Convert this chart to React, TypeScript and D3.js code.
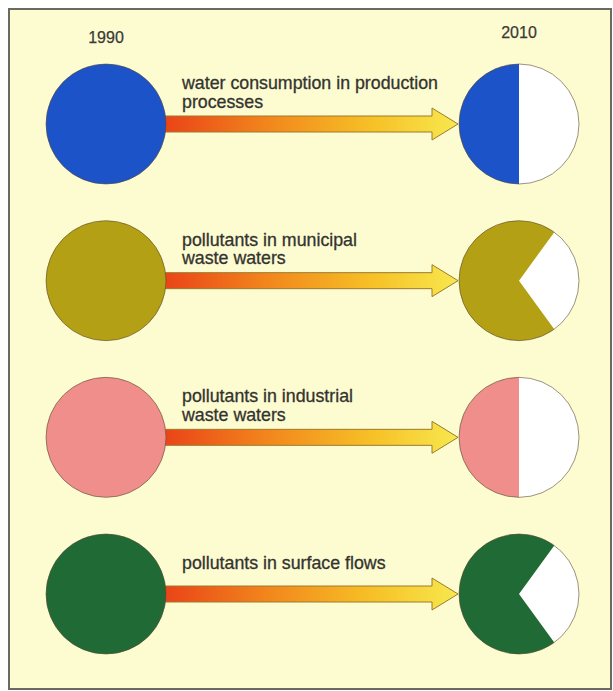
import React from "react";
import * as d3 from "d3";

const years = ["1990", "2010"];
const labelLines: string[][] = [
  ["water consumption in production", "processes"],
  ["pollutants in municipal", "waste waters"],
  ["pollutants in industrial", "waste waters"],
  ["pollutants in surface flows"],
];
const values1990 = [100, 100, 100, 100];
const values2010 = [50, 70, 50, 70];
const colors = ["#1d53c8", "#b3a015", "#ef8e8a", "#206a35"];

const W = 613;
const H = 691;

export default function App() {
  const rowY = d3.scaleLinear().domain([0, 3]).range([124, 594]);
  const xLeft = 106;
  const xRight = 519;
  const rScale = d3.scaleSqrt().domain([0, 100]).range([0, 60]);
  const fracScale = d3.scaleLinear().domain([0, 100]).range([0, 2 * Math.PI]);

  const shaftStart = 165;
  const headBase = 432;
  const tip = 458;
  const shaftH = 8;
  const headH = 16;

  const arrowPath = (cy: number) => {
    const p = d3.path();
    p.moveTo(shaftStart, cy - shaftH);
    p.lineTo(headBase, cy - shaftH);
    p.lineTo(headBase, cy - headH);
    p.lineTo(tip, cy);
    p.lineTo(headBase, cy + headH);
    p.lineTo(headBase, cy + shaftH);
    p.lineTo(shaftStart, cy + shaftH);
    p.closePath();
    return p.toString();
  };

  return (
    <svg
      width={W}
      height={H}
      style={{ position: "absolute", left: 0, top: 0, background: "#ffffff" }}
      fontFamily="'Liberation Sans', Arial, Helvetica, sans-serif"
    >
      <defs>
        <linearGradient id="arrowGrad" x1={shaftStart} x2={tip} y1={0} y2={0} gradientUnits="userSpaceOnUse">
          <stop offset="0" stopColor="#ea4418" />
          <stop offset="0.35" stopColor="#f2861c" />
          <stop offset="0.7" stopColor="#f6c026" />
          <stop offset="1" stopColor="#f7e84e" />
        </linearGradient>
      </defs>
      <rect x={9} y={9} width={602} height={680} fill="#fdfcd1" stroke="#6a6a62" strokeWidth={2} />
      <text x={xLeft} y={43} textAnchor="middle" fontSize={16} fill="#3a3a36" stroke="#3a3a36" strokeWidth={0.25}>{years[0]}</text>
      <text x={xRight} y={38} textAnchor="middle" fontSize={16} fill="#3a3a36" stroke="#3a3a36" strokeWidth={0.25}>{years[1]}</text>
      {labelLines.map((lines, i) => {
        const cy = rowY(i);
        const r1 = rScale(values1990[i]);
        const r2 = rScale(values1990[i]);
        const kept = values2010[i];
        const removed = values1990[i] - kept;
        const half = fracScale(removed) / 2;
        const whiteArc = d3.arc()({
          innerRadius: 0,
          outerRadius: r2,
          startAngle: Math.PI / 2 - half,
          endAngle: Math.PI / 2 + half,
        }) as string;
        const fillArc = d3.arc()({
          innerRadius: 0,
          outerRadius: r2,
          startAngle: Math.PI / 2 + half,
          endAngle: Math.PI / 2 + 2 * Math.PI - half,
        }) as string;
        const baseY = lines.length === 2 ? cy - 35 : cy - 25;
        return (
          <g key={i}>
            <path d={arrowPath(cy)} fill="url(#arrowGrad)" stroke="#9c7b2e" strokeWidth={1} />
            <circle cx={xLeft} cy={cy} r={r1} fill={colors[i]} stroke="#5a4a30" strokeWidth={1} strokeOpacity={0.6} />
            <g transform={`translate(${xRight},${cy})`}>
              <path d={whiteArc} fill="#ffffff" />
              <path d={fillArc} fill={colors[i]} />
              <circle r={r2} fill="none" stroke="#5a4a30" strokeWidth={1} strokeOpacity={0.6} />
            </g>
            {lines.map((t, j) => (
              <text key={j} x={182} y={baseY + j * 18.5} fontSize={17.8} fill="#333330" stroke="#333330" strokeWidth={0.3}>
                {t}
              </text>
            ))}
          </g>
        );
      })}
    </svg>
  );
}
